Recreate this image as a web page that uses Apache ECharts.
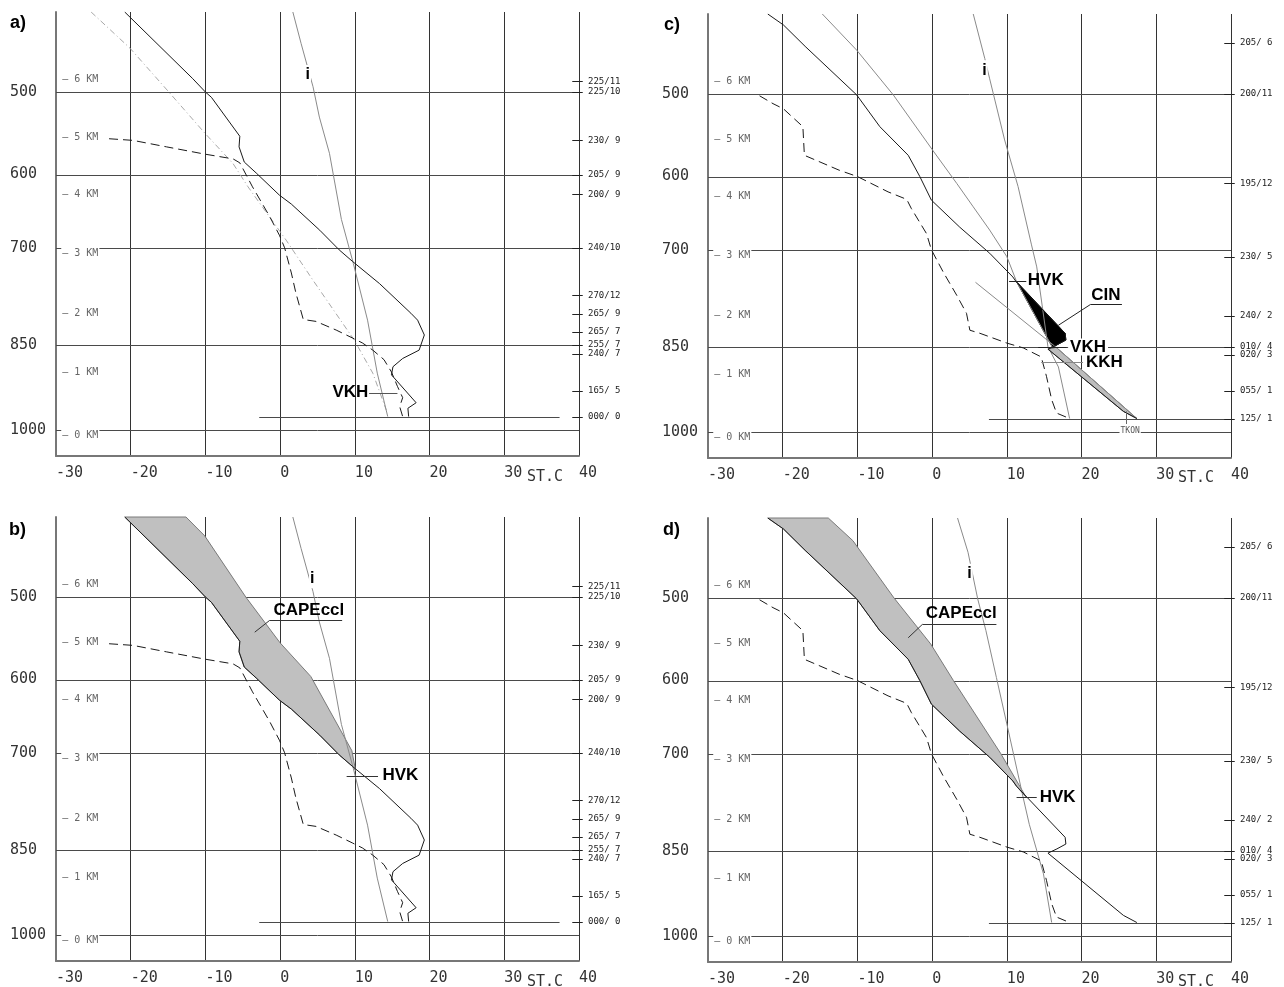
<!DOCTYPE html>
<html>
<head>
<meta charset="utf-8">
<script src="https://cdn.jsdelivr.net/npm/echarts@6.0.0/dist/echarts.min.js"></script>
<style>
html,body{margin:0;padding:0;background:#fff;}
#chart{width:1284px;height:987px;}
</style>
</head>
<body>
<div id="chart"></div>
<script>
// ---------- scale & ticks ----------
const KAPPA = 0.286;
const P_TOP = 415, P_BOT = 1049;
const tempTicks = [-30, -20, -10, 0, 10, 20, 30, 40];
const pressureTicks = [500, 600, 700, 850, 1000];
const heightLabels = [[486,'6'],[553,'5'],[626,'4'],[708,'3'],[799,'2'],[897,'1'],[1009,'0']];
const surfaceP = 975;

// ---------- panels a / b : [temperature C, pressure hPa] ----------
const tempAB = [[-20.8,415],[-11.7,485],[-10.0,500],[-9.2,506],[-5.4,552],[-5.5,565],[-4.8,584],[-3.2,598],[-0.1,627],[1.5,639],[5.3,675],[7.9,703],[9.7,720],[13.3,753],[17.5,799],[18.4,810],[19.3,834],[18.6,859],[16.4,873],[15.1,887],[14.9,901],[18.2,950],[17.1,960],[17.2,975]];
const dewAB = [[-22.9,555],[-19.7,557],[-15.2,565],[-10.1,574],[-6.3,580],[-5.4,585],[-3.7,616],[-1.4,656],[-0.1,682],[0.6,700],[1.5,737],[2.1,767],[3.1,809],[4.8,812],[7.5,826],[9.7,839],[11.0,847],[12.4,859],[13.9,875],[14.9,896],[15.7,921],[16.4,941],[16.0,957],[16.4,975]];
const isohumeAB = [[1.7,415],[2.8,447],[4.4,494],[5.25,529],[6.6,573],[8.2,660],[9.8,723],[11.7,810],[13.0,898],[14.4,975]];
const moistAdiabatA = [[-25.3,415],[-20.1,452],[-15.0,499],[-10.1,548],[-6.3,586],[-4.3,616],[0.8,689],[4.4,748],[9.9,842],[12.4,898],[14.2,963]];
const parcelB = [[-12.6,415],[-10.1,434],[-4.6,500],[-2.6,523],[0.0,554],[4.1,596],[9.6,697],[10.1,726]];
const windAB = [[488,'225/11'],[500,'225/10'],[557,'230/ 9'],[600,'205/ 9'],[626,'200/ 9'],[700,'240/10'],[771,'270/12'],[800,'265/ 9'],[829,'265/ 7'],[850,'255/ 7'],[865,'240/ 7'],[929,'165/ 5'],[975,'000/ 0']];
const surfaceAB = [-2.8, 37.4];

// ---------- panels c / d ----------
const tempCD = [[-22.0,415],[-19.9,426],[-17.0,448],[-10.1,501],[-7.0,538],[-3.2,573],[-1.65,600],[-0.1,631],[3.7,668],[7.7,705],[10.8,740],[11.3,748],[17.8,828],[17.9,839],[16.7,847],[15.5,854],[25.6,962],[27.4,975]];
const dewCD = [[-23.1,502],[-21.3,511],[-19.9,517],[-17.3,538],[-17.1,573],[-12.4,592],[-10.0,600],[-5.9,620],[-3.4,630],[-2.8,642],[-0.75,677],[-0.1,700],[1.5,733],[3.3,768],[4.6,796],[5.05,823],[6.4,828],[10.0,844],[12.2,852],[14.6,867],[15.3,900],[16.0,941],[16.65,965],[18.4,975]];
const isohumeC = [[5.5,415],[7.05,461],[7.7,483],[9.7,554],[11.5,613],[13.3,693],[14.0,725],[15.5,850],[16.9,884],[18.4,975]];
const parcelC = [[-14.7,415],[-10.1,452],[-5.2,501],[0.1,567],[3.3,609],[5.5,640],[7.7,672],[10.0,710],[11.3,747]];
const moistVkhHvkC = [[16.1,851],[11.3,747]];
const dryAdiabatC = [[27.4,975],[16.6,851],[5.8,748]];
const cinAreaC = [[11.3,747],[17.8,828],[17.9,839],[16.7,847],[16.1,851]];
const kkhAreaC = [[15.5,854],[16.6,851],[27.4,975],[25.6,962]];
const isohumeD = [[3.4,415],[4.8,450],[6.1,501],[7.2,538],[8.6,596],[10.0,658],[12.2,766],[13.0,807],[14.9,889],[16.0,975]];
const parcelD = [[-13.9,415],[-10.6,438],[-5.1,500],[-0.2,554],[2.85,600],[9.2,700],[12.6,765]];
const windCD = [[444,'205/ 6'],[500,'200/11'],[609,'195/12'],[710,'230/ 5'],[800,'240/ 2'],[850,'010/ 4'],[864,'020/ 3'],[925,'055/ 1'],[975,'125/ 1']];
const surfaceCD = [7.6, 40];

// ---------- helpers ----------
const kap = p => Math.pow(p, KAPPA);
const toXY = pts => pts.map(([t, p]) => [t, kap(p)]);
const series = [];
const MONO = '"DejaVu Sans Mono", monospace';
const SANS = '"Liberation Sans", Arial, sans-serif';

function addLine(i, pts, color, type, width, z) {
  series.push({type:'line', xAxisIndex:i, yAxisIndex:i, data:toXY(pts), symbol:'none', silent:true,
    lineStyle:{color:color, width:width || 1, type:type || 'solid'}, z:z || 3});
}
function addArea(i, pts, fill, stroke, z) {
  series.push({type:'custom', xAxisIndex:i, yAxisIndex:i, silent:true, z:z || 2, clip:false,
    data:[[0, kap(700)]],
    renderItem:(params, api) => ({type:'polygon',
      shape:{points:pts.map(([t, p]) => api.coord([t, kap(p)]))},
      style:{fill:fill, stroke:stroke || null, lineWidth:stroke ? 1 : 0}})});
}
function addSegs(i, segs, color, width, z) {
  series.push({type:'custom', xAxisIndex:i, yAxisIndex:i, silent:true, z:z || 1, clip:false,
    data:segs.map(() => [0, kap(700)]),
    renderItem:(params, api) => {
      const s = segs[params.dataIndex];
      const a = api.coord([s[0], kap(s[1])]);
      const b = api.coord([s[2], kap(s[3])]);
      if (s[1] === s[3]) { a[1] = b[1] = Math.round(a[1]) + 0.5; }
      if (s[0] === s[2]) { a[0] = b[0] = Math.round(a[0]) + 0.5; }
      return {type:'line', shape:{x1:a[0], y1:a[1], x2:b[0], y2:b[1]},
        style:{stroke:color, lineWidth:width || 1}};
    }});
}
function addTexts(i, items, style, z) {
  series.push({type:'custom', xAxisIndex:i, yAxisIndex:i, silent:true, z:z || 6, clip:false,
    data:items.map(() => [0, kap(700)]),
    renderItem:(params, api) => {
      const it = items[params.dataIndex];
      const c = api.coord([it[0], kap(it[1])]);
      return {type:'text', x:c[0], y:c[1], style:Object.assign({text:it[2]}, style)};
    }});
}
function areaBetween(env, parcel) {
  const pMeet = parcel[parcel.length - 1][1];
  return env.filter(d => d[1] < pMeet).concat(parcel.slice().reverse());
}

const calloutStyle = {fill:'#000', font:'bold 17px ' + SANS, align:'left', verticalAlign:'middle'};
const iStyle = {fill:'#000', font:'bold 16px ' + SANS, align:'center', verticalAlign:'middle',
  backgroundColor:'#fff', padding:[2, 1]};

// common frame elements per panel
const panelWind = [windAB, windAB, windCD, windCD];
const panelSurface = [surfaceAB, surfaceAB, surfaceCD, surfaceCD];
for (let i = 0; i < 4; i++) {
  addSegs(i, pressureTicks.map(p => [-30, p, 40, p]), '#4a4a4a', 1, 1);
  addSegs(i, [[panelSurface[i][0], surfaceP, panelSurface[i][1], surfaceP]], '#4a4a4a', 1, 1);
  addSegs(i, panelWind[i].map(w => [39.1, w[0], 40.5, w[0]]), '#222', 1, 1);
  addTexts(i, panelWind[i].map(w => [41.2, w[0], w[1]]),
    {fill:'#222', font:'9px ' + MONO, align:'left', verticalAlign:'middle'});
  addTexts(i, heightLabels.map(h => [-29.3, h[0], '\u2014 ' + h[1] + ' KM']),
    {fill:'#666', font:'10px ' + MONO, align:'left', verticalAlign:'middle', backgroundColor:'#fff', padding:[2, 1, 1, 1]}, 5);
}

// ---- panel a ----
addLine(0, moistAdiabatA, '#a8a8a8', [6, 3, 1, 3], 1, 3);
addLine(0, isohumeAB, '#8a8a8a', 'solid', 1, 3);
addLine(0, dewAB, '#1a1a1a', [9, 5], 1, 4);
addLine(0, tempAB, '#1a1a1a', 'solid', 1, 4);
addSegs(0, [[11.9, 932, 15.7, 932]], '#555', 1, 5);
addTexts(0, [[11.8, 932, 'VKH']], Object.assign({}, calloutStyle, {align:'right'}));
addTexts(0, [[3.7, 481, 'i']], iStyle);

// ---- panel b ----
addArea(1, areaBetween(tempAB, parcelB), '#c0c0c0', '#7a7a7a', 2);
addLine(1, isohumeAB, '#8a8a8a', 'solid', 1, 3);
addLine(1, dewAB, '#1a1a1a', [9, 5], 1, 4);
addLine(1, tempAB, '#1a1a1a', 'solid', 1, 4);
addSegs(1, [[8.9, 733.5, 13.1, 733.5], [-1.4, 527, 8.3, 527], [-3.4, 541, -1.4, 527]], '#333', 1, 5);
addTexts(1, [[13.7, 733.5, 'HVK'], [-0.9, 515.5, 'CAPEccl']], calloutStyle);
addTexts(1, [[4.3, 479, 'i']], iStyle);

// ---- panel c ----
addArea(2, kkhAreaC, '#bcbcbc', '#6a6a6a', 2);
addArea(2, cinAreaC, '#000', '#000', 2);
addLine(2, parcelC, '#8a8a8a', 'solid', 1, 3);
addLine(2, moistVkhHvkC, '#8a8a8a', 'solid', 1, 3);
addLine(2, dryAdiabatC, '#8a8a8a', 'solid', 1, 3);
addLine(2, isohumeC, '#8a8a8a', 'solid', 1, 3);
addLine(2, dewCD, '#1a1a1a', [9, 5], 1, 4);
addLine(2, tempCD, '#1a1a1a', 'solid', 1, 4);
addSegs(2, [[10.3, 745.5, 12.6, 745.5], [21.2, 782, 25.4, 782], [16.9, 815, 21.2, 782], [14.2, 851, 18.0, 851]], '#222', 1, 5);
addSegs(2, [[14.6, 875, 20.2, 875]], '#888', 1, 5);
addSegs(2, [[25.9, 962, 25.9, 985]], '#666', 1, 5);
addTexts(2, [[12.8, 745.5, 'HVK'], [21.3, 768, 'CIN'], [20.6, 875.5, 'KKH']], calloutStyle);
addTexts(2, [[18.2, 850.5, 'VKH']], Object.assign({}, calloutStyle, {backgroundColor:'#fff', padding:[0, 2]}));
addTexts(2, [[26.5, 997, 'TKON']], {fill:'#555', font:'8px ' + MONO, align:'center', verticalAlign:'middle', backgroundColor:'#fff', padding:[1, 1]});
addTexts(2, [[7.0, 473.5, 'i']], iStyle);

// ---- panel d ----
addArea(3, areaBetween(tempCD, parcelD), '#c0c0c0', '#7a7a7a', 2);
addLine(3, isohumeD, '#8a8a8a', 'solid', 1, 3);
addLine(3, dewCD, '#1a1a1a', [9, 5], 1, 4);
addLine(3, tempCD, '#1a1a1a', 'solid', 1, 4);
addSegs(3, [[11.3, 765, 14.0, 765], [-1.3, 530.5, 8.6, 530.5], [-3.2, 546.5, -1.3, 530.5]], '#333', 1, 5);
addTexts(3, [[14.4, 765, 'HVK'], [-0.85, 517, 'CAPEccl']], calloutStyle);
addTexts(3, [[5.0, 473, 'i']], iStyle);

// ---------- axes ----------
const grids = [
  {left:56, top:12, width:523, height:444},
  {left:56, top:517, width:523, height:444},
  {left:708, top:14, width:523, height:444},
  {left:708, top:518, width:523, height:444}
];
const xAxes = grids.map((g, i) => ({
  gridIndex:i, type:'value', min:tempTicks[0], max:tempTicks[tempTicks.length - 1], interval:10,
  axisLine:{show:true, onZero:false, lineStyle:{color:'#777', width:2}},
  axisTick:{show:false},
  axisLabel:{align:'left', margin:10, fontFamily:MONO, fontSize:15, color:'#333', showMinLabel:true, showMaxLabel:true},
  splitLine:{show:true, lineStyle:{color:'#333', width:1}}
}));
const yAxes = grids.map((g, i) => ({
  gridIndex:i, type:'value', inverse:true, min:kap(P_TOP), max:kap(P_BOT),
  axisLine:{show:true, onZero:false, lineStyle:{color:'#777', width:2}},
  axisTick:{show:false},
  splitLine:{show:false},
  axisLabel:{customValues:pressureTicks.map(kap),
    formatter:v => String(Math.round(Math.pow(v, 1 / KAPPA))),
    align:'left', margin:46, fontFamily:MONO, fontSize:15, color:'#333', padding:[5, 0, 0, 0]}
}));

const letterFont = 'bold 18px ' + SANS;
const option = {
  animation:false,
  backgroundColor:'#fff',
  grid:grids,
  xAxis:xAxes,
  yAxis:yAxes,
  graphic:[
    {type:'text', left:10, top:14, style:{text:'a)', font:letterFont, fill:'#000'}},
    {type:'text', left:9, top:521, style:{text:'b)', font:letterFont, fill:'#000'}},
    {type:'text', left:664, top:16, style:{text:'c)', font:letterFont, fill:'#000'}},
    {type:'text', left:663, top:521, style:{text:'d)', font:letterFont, fill:'#000'}},
    {type:'text', left:527, top:470, style:{text:'ST.C', font:'15px ' + MONO, fill:'#333'}},
    {type:'text', left:1178, top:471, style:{text:'ST.C', font:'15px ' + MONO, fill:'#333'}},
    {type:'text', left:527, top:975, style:{text:'ST.C', font:'15px ' + MONO, fill:'#333'}},
    {type:'text', left:1178, top:975, style:{text:'ST.C', font:'15px ' + MONO, fill:'#333'}}
  ],
  series:series
};
const chart = echarts.init(document.getElementById('chart'), null, {renderer:'canvas'});
chart.setOption(option);
</script>
</body>
</html>
